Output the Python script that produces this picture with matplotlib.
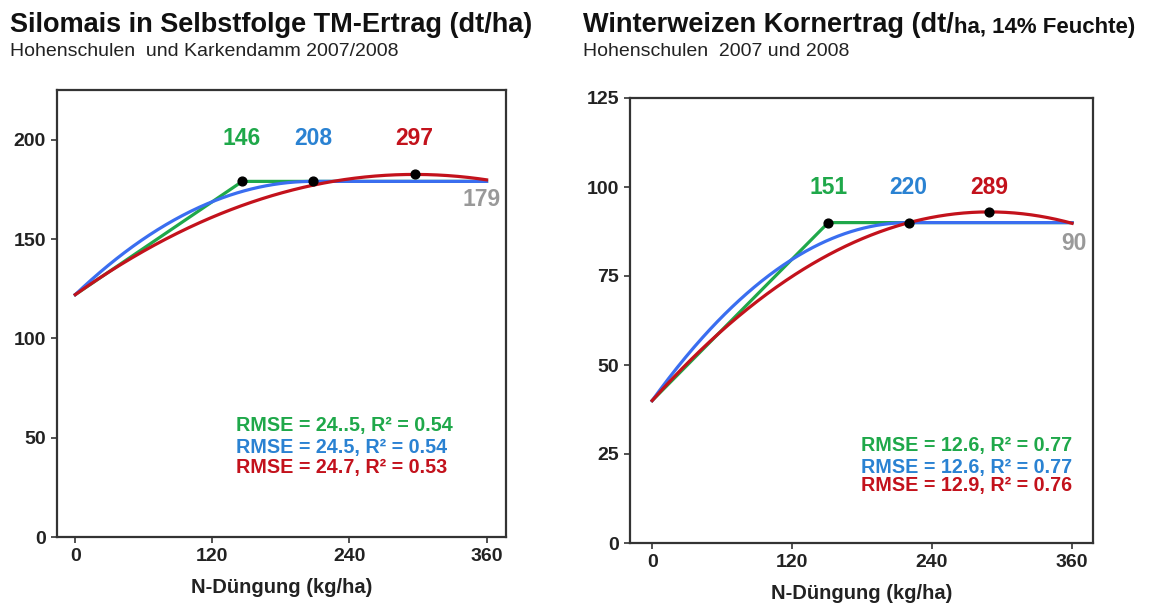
"""
N-Düngung response curves: Silomais and Winterweizen (two panels).
Linear-plateau, quadratic-plateau and quadratic models.
"""

import numpy as np
import matplotlib
matplotlib.use("Agg")
import matplotlib.pyplot as plt

plt.rcParams["font.family"] = ["Liberation Sans", "DejaVu Sans"]

GREEN = "#1fa84a"
BLUE = "#3a6ef0"
BLUE_TXT = "#2a82d2"
RED = "#c3121c"
GRAY = "#999999"
INK = "#111111"

N_TICKS = [0, 120, 240, 360]

# Silomais: intercept, optimum N and yield at optimum for each model
MAIS_INTERCEPT = 122
MAIS_OPT_N = [146, 208, 297]         # linear-plateau, quad-plateau, quadratic
MAIS_OPT_Y = [179, 179, 182.5]
MAIS_PLATEAU = 179
MAIS_YTICKS = [0, 50, 100, 150, 200]
MAIS_STATS = ["RMSE = 24..5, R² = 0.54",
              "RMSE = 24.5, R² = 0.54",
              "RMSE = 24.7, R² = 0.53"]

# Winterweizen
WEIZEN_INTERCEPT = 40
WEIZEN_OPT_N = [151, 220, 289]
WEIZEN_OPT_Y = [90, 90, 93]
WEIZEN_PLATEAU = 90
WEIZEN_YTICKS = [0, 25, 50, 75, 100, 125]
WEIZEN_STATS = ["RMSE = 12.6, R² = 0.77",
                "RMSE = 12.6, R² = 0.77",
                "RMSE = 12.9, R² = 0.76"]

W, H = 1154, 603


def models(n, a, opt_n, opt_y):
    lin = np.where(n < opt_n[0], a + (opt_y[0] - a) * n / opt_n[0], opt_y[0])
    qp = np.where(n < opt_n[1],
                  opt_y[1] - (opt_y[1] - a) * ((n - opt_n[1]) / opt_n[1]) ** 2,
                  opt_y[1])
    quad = opt_y[2] - (opt_y[2] - a) * ((n - opt_n[2]) / opt_n[2]) ** 2
    return lin, qp, quad


def panel(fig, rect, a, opt_n, opt_y, plateau, yticks, ylim, xlim,
          lab_y, plat_lab, stats, stats_x, stats_y):
    ax = fig.add_axes(rect)
    n = np.linspace(0, 360, 400)
    lin, qp, quad = models(n, a, opt_n, opt_y)
    ax.plot(n, lin, color=GREEN, lw=2.3, zorder=3)
    ax.plot(n, qp, color=BLUE, lw=2.3, zorder=3)
    ax.plot(n, quad, color=RED, lw=2.3, zorder=4)
    ax.scatter(opt_n, opt_y, s=40, color="black", zorder=5)

    for x, c in zip(opt_n, [GREEN, BLUE_TXT, RED]):
        ax.text(x, lab_y, f"{x}", color=c, fontsize=16.5, fontweight="bold",
                ha="center", va="center")
    ax.text(plat_lab[0], plat_lab[1], f"{plateau}", color=GRAY, fontsize=16.5,
            fontweight="bold", ha="center", va="center")

    # stats lines placed in figure pixels
    for s, c, py in zip(stats, [GREEN, BLUE_TXT, RED], stats_y):
        fig.text(stats_x / W, 1 - py / H, s, color=c, fontsize=14.2,
                 fontweight="bold", ha="left", va="center")

    ax.set_xlim(*xlim)
    ax.set_ylim(*ylim)
    ax.set_xticks(N_TICKS)
    ax.set_yticks(yticks)
    ax.tick_params(axis="both", labelsize=14, colors="#333333", width=1.2,
                   length=4, pad=4)
    for t in ax.get_xticklabels() + ax.get_yticklabels():
        t.set_fontweight("bold")
        t.set_color("#222222")
    for sp in ax.spines.values():
        sp.set_color("#333333")
        sp.set_linewidth(1.6)
    ax.set_xlabel("N-Düngung (kg/ha)", fontsize=14.5, fontweight="bold",
                  color="#222222", labelpad=9)
    return ax


def rect(x0, y0, x1, y1):
    return [x0 / W, 1 - y1 / H, (x1 - x0) / W, (y1 - y0) / H]


fig = plt.figure(figsize=(11.54, 6.03), dpi=100)

panel(fig, rect(57, 90, 506, 537), MAIS_INTERCEPT, MAIS_OPT_N, MAIS_OPT_Y,
      MAIS_PLATEAU, MAIS_YTICKS, (0, 225), (-16, 377),
      200.5, (356, 170), MAIS_STATS, 236, [426, 447, 468])

panel(fig, rect(630, 98, 1093, 543), WEIZEN_INTERCEPT, WEIZEN_OPT_N, WEIZEN_OPT_Y,
      WEIZEN_PLATEAU, WEIZEN_YTICKS, (0, 125), (-19, 378),
      100, (362, 84), WEIZEN_STATS, 861, [445, 467, 485])

# titles
fig.text(10 / W, 1 - 25 / H, "Silomais in Selbstfolge TM-Ertrag (dt/ha)",
         fontsize=19.5, fontweight="bold", color=INK, ha="left", va="center")
fig.text(10 / W, 1 - 52 / H, "Hohenschulen  und Karkendamm 2007/2008",
         fontsize=14, color="#222222", ha="left", va="center")

t1 = fig.text(583 / W, 1 - 25 / H, "Winterweizen Kornertrag (dt/",
              fontsize=19.5, fontweight="bold", color=INK, ha="left", va="center")
fig.canvas.draw()
bb = t1.get_window_extent()
fig.text(bb.x1 / W, 1 - 27 / H, "ha, 14% Feuchte)",
         fontsize=16, fontweight="bold", color=INK, ha="left", va="center")
fig.text(583 / W, 1 - 52 / H, "Hohenschulen  2007 und 2008",
         fontsize=14, color="#222222", ha="left", va="center")

fig.savefig("out.png", dpi=100, facecolor="white")
